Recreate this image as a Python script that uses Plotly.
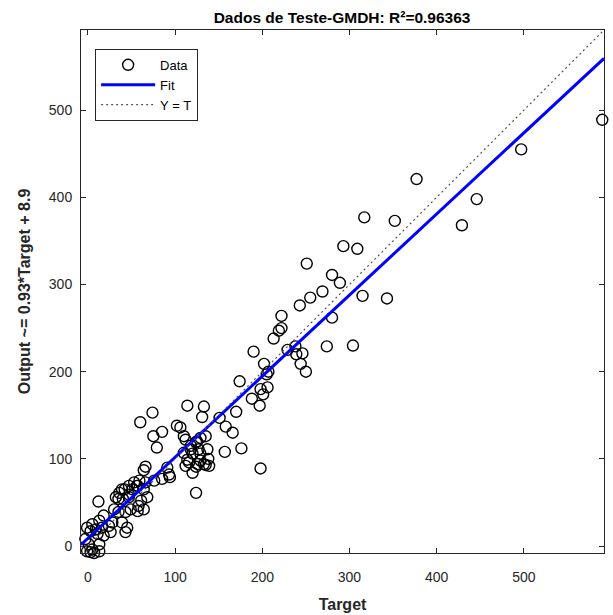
import plotly.graph_objects as go
import numpy as np

# Data (Target, Output)
target = [
    590, 497, 377, 446, 429,
    317, 352, 293, 309, 251, 280, 289, 269, 255, 243, 315, 343, 280, 222, 222, 219, 213,
    274, 304, 229, 238, 246, 239, 190, 244, 250, 202, 207, 205, 174, 206, 198, 201, 188, 197,
    114, 133, 131, 170, 151, 158, 166, 135, 106, 110, 176, 157, 125, 118, 127, 120, 129, 137,
    116, 126, 133, 139, 120, 198, 110, 74, 60, 75, 85, 79, 102, 112, 124, 129, 118, 114, 129,
    138, 112, 124, 135, 66, 91, 64, 93, 85, 94, 76, 124,
    66, 59, 53, 47, 42, 36, 32, 40, 47, 51, 57, 61, 64, 57, 49, 12, 39, 47, 56, 64, 68, 58,
    35, 30, 35, 43, 39, 45, 43, 18, 13, 5, 9, 16, 24, 28, 26, 18, 11, 3, -1, -3, 1, -1, 5, 7,
    3, 13, 13,
]
output = [
    489, 455, 421, 398, 368,
    377, 373, 344, 341, 324, 311, 302, 292, 285, 276, 287, 284, 262, 264, 250, 247, 238,
    229, 230, 225, 229, 221, 220, 223, 209, 200, 209, 200, 197, 189, 182, 180, 174, 169, 161,
    161, 160, 148, 154, 147, 137, 130, 126, 136, 126, 112, 108, 120, 115, 111, 106, 106, 111,
    96, 94, 94, 92, 84, 89, 107, 153, 142, 126, 131, 113, 138, 122, 119, 124, 111, 99, 98,
    100, 92, 91, 93, 91, 90, 87, 82, 77, 79, 75, 61,
    73, 75, 73, 69, 65, 61, 56, 54, 56, 65, 69, 52, 42, 40, 42, 51, 65, 59, 69, 65, 56, 46,
    54, 42, 39, 39, 27, 21, 16, 35, 29, 25, 19, 21, 23, 27, 16, 12, 14, 17, 21, 8, 2, -6, -4, -8,
    -7, 2, -6,
]

fit_slope = 0.93
fit_intercept = 8.9
r2_text = "0.96363"
axis_min, axis_max = -8, 592
tick_vals = [0, 100, 200, 300, 400, 500]

lim = np.array([axis_min, axis_max])
font_family = "Liberation Sans, Arial, Helvetica, sans-serif"
axis_color = "#262626"

fig = go.Figure()
fig.add_trace(go.Scatter(
    x=target, y=output, mode="markers", name="Data",
    marker=dict(symbol="circle-open", size=11, color="black", line=dict(width=1.4, color="black")),
    cliponaxis=False,
))
fig.add_trace(go.Scatter(
    x=lim, y=fit_slope * lim + fit_intercept, mode="lines", name="Fit",
    line=dict(color="#0000ff", width=3),
))
fig.add_trace(go.Scatter(
    x=lim, y=lim, mode="lines", name="Y = T",
    line=dict(color="#555555", width=1.2, dash="2px,3px"),
))

axis_common = dict(
    range=[axis_min, axis_max], tickvals=tick_vals, ticks="inside", ticklen=5,
    tickcolor=axis_color, showline=True, linecolor=axis_color, linewidth=1,
    mirror="allticks", showgrid=False, zeroline=False, automargin=False,
    tickfont=dict(family=font_family, size=14, color=axis_color),
)

fig.update_layout(
    width=613, height=615,
    margin=dict(l=81, r=9, t=30, b=62),
    paper_bgcolor="white", plot_bgcolor="white",
    title=dict(text="<b>Dados de Teste-GMDH: R²=" + r2_text + "</b>", x=0.558, xanchor="center",
               xref="container", yref="container", y=0.972, yanchor="middle",
               font=dict(family=font_family, size=15.5, color="black")),
    xaxis=dict(axis_common, ticklabelstandoff=11,
               title=dict(text="<b>Target</b>", standoff=15,
                          font=dict(family=font_family, size=16, color=axis_color))),
    yaxis=dict(axis_common, ticklabelstandoff=5,
               title=dict(text="<b>Output ~= " + str(fit_slope) + "*Target + " + str(fit_intercept) + "</b>",
                          standoff=14, font=dict(family=font_family, size=16, color=axis_color))),
    legend=dict(x=0.027, y=0.964, xanchor="left", yanchor="top",
                bgcolor="white", bordercolor=axis_color, borderwidth=1,
                font=dict(family=font_family, size=13, color="black"),
                tracegroupgap=0, itemwidth=54),
    showlegend=True,
)

fig.write_html("out.html", config={"displayModeBar": False},
               post_script="document.body.style.margin='0';")
